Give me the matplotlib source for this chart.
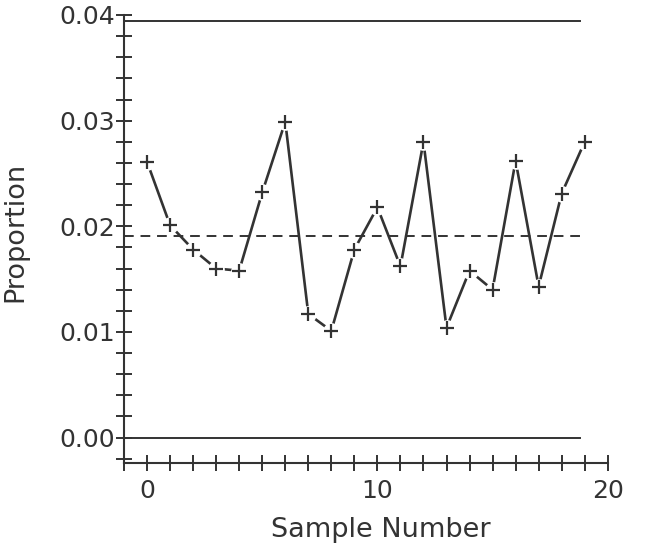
import matplotlib
matplotlib.use('Agg')
import matplotlib.pyplot as plt
from matplotlib.ticker import MultipleLocator, FixedLocator

# datos
muestra = list(range(20))
proporcion = [0.0261, 0.0201, 0.0178, 0.0160, 0.0158, 0.0232, 0.0299, 0.0117,
              0.0101, 0.0178, 0.0218, 0.0162, 0.0280, 0.0104, 0.0158, 0.0140,
              0.0262, 0.0143, 0.0231, 0.0280]
limite_sup = 0.0394
linea_central = 0.0191
limite_inf = 0.0

gris = '#333333'
plt.rcParams['font.family'] = ['DejaVu Sans']

fig = plt.figure(figsize=(6.5, 5.45), dpi=100)
ax = fig.add_axes([0.1908, 0.15, 0.935 - 0.1908, 0.9725 - 0.15])

# lineas de control
ax.plot([-1, 18.8], [limite_sup, limite_sup], color=gris, lw=1.4)
ax.plot([-1, 19.0], [linea_central, linea_central], color=gris, lw=1.4,
        dashes=(5, 3.5))
ax.plot([-1, 18.8], [limite_inf, limite_inf], color=gris, lw=1.4)

# serie con huecos junto a los marcadores
ax.plot(muestra, proporcion, color=gris, lw=1.9, zorder=3)
ax.plot(muestra, proporcion, ls='none', marker='o', ms=12, mfc='white',
        mec='none', zorder=4)
ax.plot(muestra, proporcion, ls='none', marker='+', ms=10, mew=1.6,
        color=gris, zorder=5)

ax.set_xlim(-1, 20)
ax.set_ylim(-0.00243, 0.04)

for s in ['top', 'right']:
    ax.spines[s].set_visible(False)
for s in ['left', 'bottom']:
    ax.spines[s].set_color(gris)
    ax.spines[s].set_linewidth(1.5)

ax.xaxis.set_major_locator(FixedLocator([0, 10, 20]))
ax.xaxis.set_minor_locator(MultipleLocator(1))
ax.yaxis.set_major_locator(FixedLocator([0.0, 0.01, 0.02, 0.03, 0.04]))
ax.yaxis.set_minor_locator(MultipleLocator(0.002))
ax.set_yticklabels(['0.00', '0.01', '0.02', '0.03', '0.04'])

ax.tick_params(which='both', direction='inout', length=11, width=1.4,
               color=gris, labelcolor=gris, labelsize=18)
ax.tick_params(axis='y', pad=1)
ax.tick_params(axis='x', pad=6)

ax.set_xlabel('Sample Number', fontsize=19.5, color=gris)
ax.set_ylabel('Proportion', fontsize=19.5, color=gris)
ax.xaxis.set_label_coords(0.531, -0.12)
ax.yaxis.set_label_coords(-0.197, 0.516)

fig.savefig('out.png', dpi=100)
